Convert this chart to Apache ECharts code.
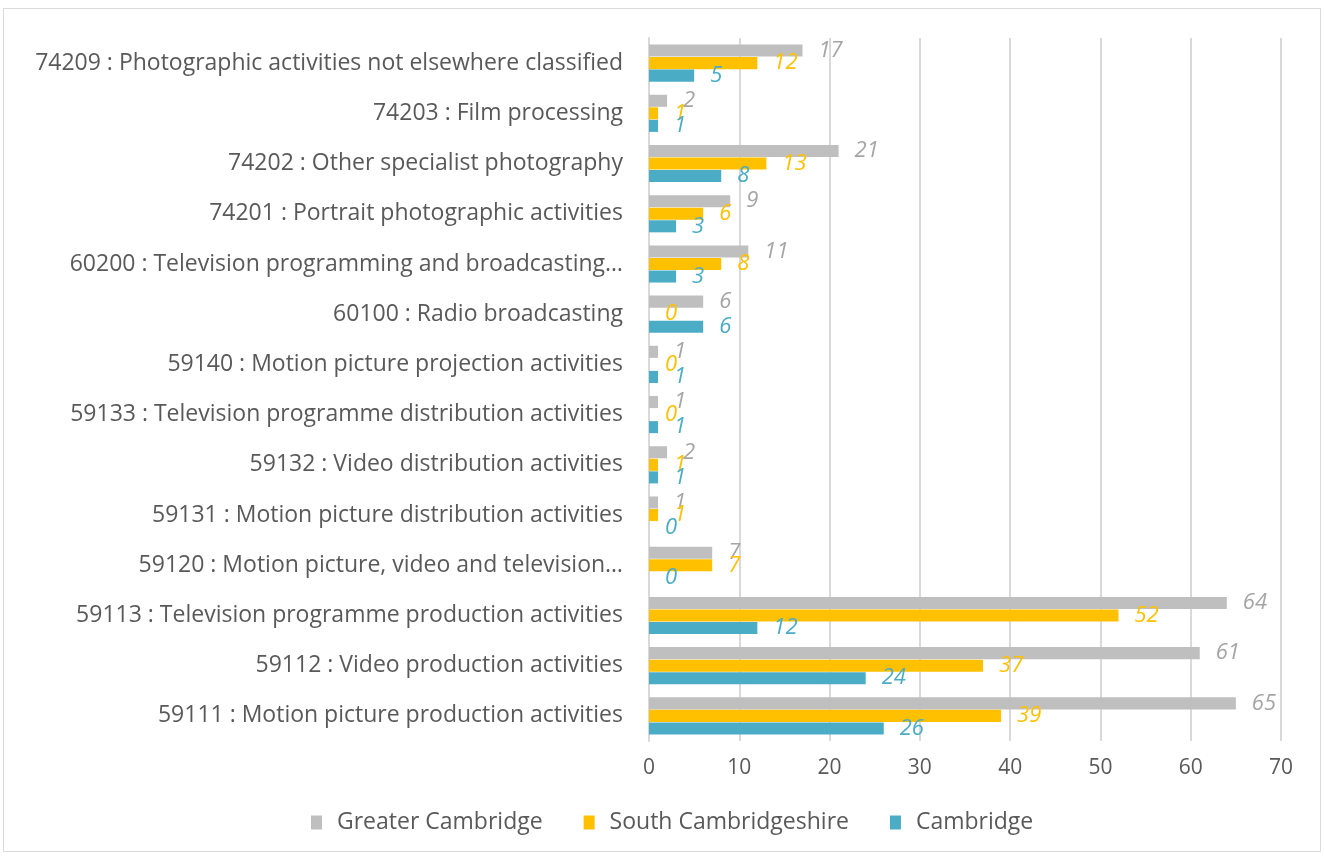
<!DOCTYPE html>
<html>
<head>
<meta charset="utf-8">
<script src="https://cdn.jsdelivr.net/npm/echarts@6/dist/echarts.min.js"></script>
<style>
  html, body { margin: 0; padding: 0; background: #fff; }
  #chart { width: 1324px; height: 857px; }
</style>
</head>
<body>
<div id="chart"></div>
<script>
// Industry classes, listed top to bottom
const categories = [
  '74209 : Photographic activities not elsewhere classified',
  '74203 : Film processing',
  '74202 : Other specialist photography',
  '74201 : Portrait photographic activities',
  '60200 : Television programming and broadcasting…',
  '60100 : Radio broadcasting',
  '59140 : Motion picture projection activities',
  '59133 : Television programme distribution activities',
  '59132 : Video distribution activities',
  '59131 : Motion picture distribution activities',
  '59120 : Motion picture, video and television…',
  '59113 : Television programme production activities',
  '59112 : Video production activities',
  '59111 : Motion picture production activities'
];
const greaterCambridge    = [17, 2, 21, 9, 11, 6, 1, 1, 2, 1, 7, 64, 61, 65];
const southCambridgeshire = [12, 1, 13, 6, 8, 0, 0, 0, 1, 1, 7, 52, 37, 39];
const cambridge           = [5, 1, 8, 3, 3, 6, 1, 1, 1, 0, 0, 12, 24, 26];
const xTicks = { min: 0, max: 70, interval: 10 };

const FONT = '"Open Sans", Lato, sans-serif';

function series(name, data, color, labelColor) {
  return {
    name: name,
    type: 'bar',
    data: data,
    barGap: '4%',
    barCategoryGap: '26%',
    itemStyle: { color: color },
    label: {
      show: true,
      position: 'right',
      distance: 16,
      color: labelColor,
      fontStyle: 'italic',
      fontSize: 22,
      fontFamily: FONT
    }
  };
}

const chart = echarts.init(document.getElementById('chart'), null, { renderer: 'canvas' });
chart.setOption({
  animation: false,
  backgroundColor: '#fff',
  graphic: [{
    type: 'rect',
    shape: { x: 3.5, y: 8.5, width: 1317, height: 843 },
    style: { fill: 'none', stroke: '#D9D9D9', lineWidth: 1 },
    z: -1
  }],
  grid: { left: 649, right: 43, top: 38, bottom: 116, containLabel: false },
  legend: {
    data: ['Greater Cambridge', 'South Cambridgeshire', 'Cambridge'],
    bottom: 18,
    left: 306,
    itemWidth: 11,
    itemHeight: 14,
    itemGap: 41,
    icon: 'rect',
    textStyle: { color: '#595959', fontSize: 23, fontFamily: FONT, padding: [0, 0, 0, 10] }
  },
  xAxis: {
    type: 'value',
    min: xTicks.min,
    max: xTicks.max,
    interval: xTicks.interval,
    axisLine: { show: false },
    axisTick: { show: false },
    axisLabel: { color: '#595959', fontSize: 21, fontFamily: FONT, margin: 17 },
    splitLine: { lineStyle: { color: '#D9D9D9', width: 2 } }
  },
  yAxis: {
    type: 'category',
    data: categories,
    inverse: true,
    axisLine: { show: true, lineStyle: { color: '#D9D9D9', width: 2 } },
    axisTick: { show: false },
    axisLabel: { color: '#595959', fontSize: 23, fontFamily: FONT, margin: 26 }
  },
  series: [
    series('Greater Cambridge', greaterCambridge, '#BFBFBF', '#A5A5A5'),
    series('South Cambridgeshire', southCambridgeshire, '#FFC000', '#FFC000'),
    series('Cambridge', cambridge, '#4BACC6', '#4BACC6')
  ]
});
</script>
</body>
</html>
